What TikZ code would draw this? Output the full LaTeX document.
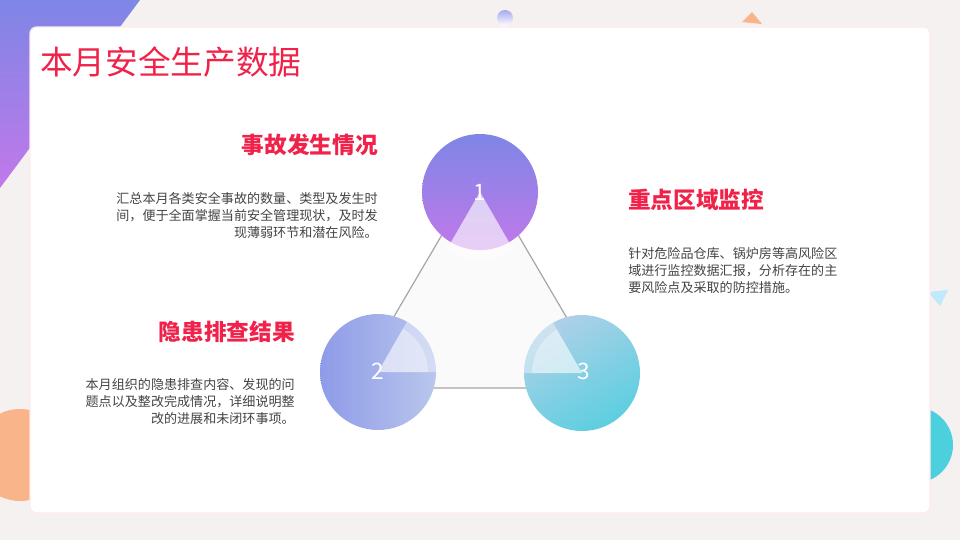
\documentclass[tikz,border=0pt]{standalone}
\usepackage{fontspec}
\setmainfont{Noto Sans CJK SC}
\usetikzlibrary{positioning}
\definecolor{bgpage}{RGB}{245,241,241}
\definecolor{titlered}{RGB}{240,34,74}
\definecolor{bodygray}{RGB}{68,68,68}
\definecolor{violetA}{RGB}{126,134,230}
\definecolor{violetB}{RGB}{193,120,234}
\definecolor{blueA}{RGB}{142,155,232}
\definecolor{blueB}{RGB}{185,198,236}
\definecolor{tealA}{RGB}{174,208,232}
\definecolor{tealB}{RGB}{92,207,224}
\definecolor{salmon}{RGB}{249,180,138}
\definecolor{aqua}{RGB}{77,208,221}
\tikzstyle{heading} = [font=\fontsize{17}{20}\selectfont\bfseries, text=titlered, inner sep=0pt]
\tikzstyle{bodyright} = [font=\fontsize{9.8}{12.8}\selectfont, text=bodygray, align=right, inner sep=0pt]
\tikzstyle{bodyleft} = [font=\fontsize{9.8}{12.8}\selectfont, text=bodygray, align=left, inner sep=0pt]
\tikzstyle{number} = [font=\fontsize{17}{17}\selectfont, text=white, inner sep=0pt]
\tikzstyle{link} = [draw=black!35, line width=0.9pt]
\begin{document}
\begin{tikzpicture}[x=0.75pt,y=-0.75pt]
\useasboundingbox (0,0) rectangle (960,540);
\fill[bgpage] (0,0) rectangle (960,540);
% decorations
\shade[top color=violetA, bottom color=violetB, shading angle=0] (0,0) -- (140,0) -- (0,188) -- cycle;
\shade[top color=violetA!70, bottom color=white] (505,18) circle (8);
\fill[salmon] (742,22) -- (752,12) -- (762,24) -- cycle;
\fill[cyan!25] (928,292) -- (948,290) -- (940,306) -- cycle;
\fill[salmon] (20,455) circle (46);
\fill[aqua] (915,445) circle (38);
% card
\fill[white, draw=red!8, line width=1pt, rounded corners=5] (30,27) rectangle (930,513);
\node (title) [anchor=west, font=\fontsize{24.5}{27}\selectfont, text=titlered, inner sep=0pt] at (40,62) {本月安全生产数据};
% triangle
\coordinate (ta) at (480,170);
\coordinate (tb) at (352,388);
\coordinate (tc) at (608,388);
\fill[black!2] (ta) -- (tb) -- (tc) -- cycle;
\draw[link] (ta) -- (tb) -- (tc) -- cycle;
% circles
\shade[top color=violetA, bottom color=violetB] (480,192) circle (58);
\shade[left color=blueA, right color=blueB] (378,372) circle (58);
\shade[top color=tealA, bottom color=tealB, shading angle=30] (582,373) circle (58);
\fill[white, opacity=0.45] (480,192) -- ++(60:68) arc[start angle=60, end angle=120, radius=68] -- cycle;
\fill[white, opacity=0.35] (480,192) -- ++(60:58) arc[start angle=60, end angle=120, radius=58] -- cycle;
\fill[white, opacity=0.4] (378,372) -- ++(0:58) arc[start angle=0, end angle=-60, radius=58] -- cycle;
\fill[white, opacity=0.35] (378,372) -- ++(0:50) arc[start angle=0, end angle=-60, radius=50] -- cycle;
\fill[white, opacity=0.4] (582,373) -- ++(180:58) arc[start angle=180, end angle=240, radius=58] -- cycle;
\fill[white, opacity=0.35] (582,373) -- ++(180:50) arc[start angle=180, end angle=240, radius=50] -- cycle;
\node (n1) [number] at (480,192) {1};
\node (n2) [number] at (378,371) {2};
\node (n3) [number] at (584,371) {3};
% texts
\node (h1) [heading, anchor=east] at (378,145) {事故发生情况};
\node (b1) [bodyright, anchor=north east] at (378,192) {汇总本月各类安全事故的数量、类型及发生时\\间，便于全面掌握当前安全管理现状，及时发\\现薄弱环节和潜在风险。};
\node (h2) [heading, anchor=west] at (628,200) {重点区域监控};
\node (b2) [bodyleft, anchor=north west] at (628,247) {针对危险品仓库、锅炉房等高风险区\\域进行监控数据汇报，分析存在的主\\要风险点及采取的防控措施。};
\node (h3) [heading, anchor=east] at (295,332) {隐患排查结果};
\node (b3) [bodyright, anchor=north east] at (295,378) {本月组织的隐患排查内容、发现的问\\题点以及整改完成情况，详细说明整\\改的进展和未闭环事项。};
\end{tikzpicture}
\end{document}
